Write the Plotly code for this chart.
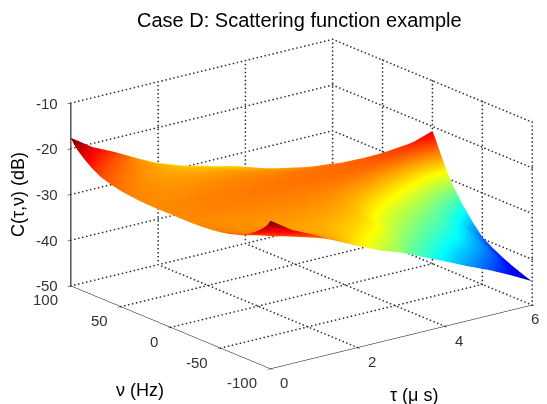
import plotly.graph_objects as go

TAU = [0, 0.25, 0.5, 1, 1.5, 2, 2.5, 3, 3.5, 4, 4.5, 5, 5.5, 6]
NU_HALF = [0, 3, 6, 10, 15, 20, 30, 40, 50, 60, 70, 80, 87, 93, 97, 100]
# z[tau][|nu|], dB
Z_HALF = [
    [-25.3, -25.3, -25.3, -25.3, -25.3, -25.3, -25.2, -25.0, -24.7, -24.2, -23.5, -22.2, -21.0, -19.8, -18.8, -17.6],
    [-25.2, -25.2, -25.2, -25.2, -25.2, -25.3, -25.3, -25.2, -25.0, -24.7, -24.1, -23.2, -22.0, -21.0, -20.2, -19.2],
    [-25.1, -25.1, -25.1, -25.1, -25.2, -25.3, -25.4, -25.4, -25.3, -25.1, -24.7, -24.0, -23.3, -22.5, -21.7, -20.8],
    [-25.0, -25.0, -25.0, -25.0, -25.1, -25.2, -25.4, -25.5, -25.6, -25.6, -25.5, -25.1, -24.7, -24.2, -23.6, -23.0],
    [-24.9, -24.9, -24.9, -25.0, -25.0, -25.1, -25.3, -25.5, -25.7, -25.9, -26.0, -25.9, -25.8, -25.7, -25.6, -25.5],
    [-24.8, -24.8, -24.8, -24.9, -25.0, -25.0, -25.2, -25.5, -25.8, -26.1, -26.4, -26.7, -27.0, -27.3, -27.6, -27.8],
    [-24.7, -24.7, -24.7, -24.8, -24.9, -25.0, -25.2, -25.6, -26.0, -26.5, -27.0, -27.7, -28.4, -29.0, -29.5, -29.9],
    [-24.6, -24.6, -24.6, -24.7, -24.8, -25.0, -25.4, -25.9, -26.5, -27.2, -28.0, -29.0, -30.0, -30.7, -31.2, -31.6],
    [-24.5, -24.5, -24.5, -24.6, -24.8, -25.1, -25.9, -26.9, -28.0, -29.3, -30.3, -31.5, -32.4, -33.0, -33.4, -33.7],
    [-24.3, -24.3, -24.3, -24.5, -24.9, -25.5, -26.9, -28.4, -29.9, -31.0, -32.2, -33.4, -34.3, -35.0, -35.5, -35.8],
    [-24.0, -24.0, -24.1, -24.6, -25.6, -26.5, -28.3, -30.0, -31.5, -32.7, -33.9, -35.3, -36.3, -37.1, -37.6, -38.0],
    [-23.4, -23.5, -24.0, -25.2, -26.6, -27.8, -29.9, -31.7, -33.0, -34.3, -35.6, -37.0, -38.2, -39.1, -39.6, -40.0],
    [-22.6, -23.0, -24.2, -25.9, -27.9, -29.4, -32.0, -33.9, -35.7, -37.0, -38.2, -39.5, -40.6, -41.3, -41.9, -42.3],
    [-21.0, -22.3, -24.0, -26.1, -28.7, -30.8, -34.2, -37.1, -39.6, -41.0, -42.2, -43.2, -43.8, -44.3, -44.6, -44.8],
]
NU = [-v for v in NU_HALF[:0:-1]] + NU_HALF
Z = [row[:0:-1] + row for row in Z_HALF]

TAU_TICKS = [0, 2, 4, 6]
NU_TICKS = [-100, -50, 0, 50, 100]
Z_TICKS = [-50, -40, -30, -20, -10]
JET = [[0, "#00008f"], [0.125, "#0000ff"], [0.375, "#00ffff"], [0.625, "#ffff00"],
       [0.875, "#ff0000"], [1, "#800000"]]

zmin, zmax = -50, -10


def dots(a, b, count):
    return [tuple(a[k] + (b[k] - a[k]) * i / count for k in range(3)) for i in range(count + 1)]


pts = []
for t in TAU_TICKS[1:]:
    pts += dots((t, 100, zmin), (t, 100, zmax), 46)
    pts += dots((t, -100, zmin), (t, 100, zmin), 55)
for n in NU_TICKS[:-1]:
    pts += dots((6, n, zmin), (6, n, zmax), 46)
for n in NU_TICKS[1:]:
    pts += dots((0, n, zmin), (6, n, zmin), 66)
for z in Z_TICKS[1:]:
    pts += dots((0, 100, z), (6, 100, z), 66)
    pts += dots((6, -100, z), (6, 100, z), 55)

fig = go.Figure()
fig.add_trace(go.Scatter3d(x=[p[0] for p in pts], y=[p[1] for p in pts], z=[p[2] for p in pts],
                           mode="markers", hoverinfo="skip", showlegend=False,
                           marker=dict(color="#333333", size=1.0, line=dict(width=0))))
fig.add_trace(go.Surface(x=TAU, y=NU, z=[list(r) for r in zip(*Z)], colorscale=JET, cmin=-46, cmax=-17.9,
                         showscale=False,
                         lighting=dict(ambient=1, diffuse=0, specular=0, fresnel=0, roughness=1)))

axis = dict(showbackground=False, showgrid=False, zeroline=False, showline=True, linecolor="black",
            linewidth=1, ticks="inside", ticklen=4, tickcolor="black", showspikes=False, title="",
            showticklabels=False)

R = (0.794, -0.607, 0)
U = (0.193, 0.2525, 0.948)
DIR = (-0.5766, -0.7530, 0.318)
C = tuple(-0.0992 * R[k] - 0.0295 * U[k] for k in range(3))
EYE = tuple(C[k] + 2.5 * DIR[k] for k in range(3))

tick_font = dict(family="Liberation Sans", size=15, color="#333333")
scene_ann = []
for z in Z_TICKS:
    scene_ann.append(dict(x=0, y=100, z=z, text=str(z), showarrow=False, xanchor="right", yanchor="middle",
                          xshift=-11, font=tick_font))
for n in NU_TICKS:
    scene_ann.append(dict(x=0, y=n, z=zmin, text=str(n), showarrow=False, xanchor="right", yanchor="middle",
                          xshift=-11, yshift=-14, font=tick_font))
for t in TAU_TICKS[:-1]:
    scene_ann.append(dict(x=t, y=-100, z=zmin, text=str(t), showarrow=False, xanchor="center", yanchor="middle",
                          xshift=14, yshift=-14, font=tick_font))

fig.update_layout(
    width=547, height=404, margin=dict(l=0, r=0, t=0, b=0), paper_bgcolor="white", showlegend=False,
    scene=dict(
        domain=dict(x=[0, 1], y=[0, 1]),
        aspectmode="manual", aspectratio=dict(x=1.632, y=1.625, z=0.955),
        camera=dict(projection=dict(type="orthographic"),
                    eye=dict(x=EYE[0], y=EYE[1], z=EYE[2]),
                    up=dict(x=0, y=0, z=1), center=dict(x=C[0], y=C[1], z=C[2])),
        xaxis=dict(axis, range=[0, 6], tickvals=TAU_TICKS),
        yaxis=dict(axis, range=[-100, 100], tickvals=NU_TICKS),
        zaxis=dict(axis, range=[-50, -10], tickvals=Z_TICKS, ticks="outside", linewidth=2),
        annotations=scene_ann,
    ),
)


def label(text, px, py, size, angle=0, color="black"):
    # The page body adds an 8 px margin around the figure.
    fig.add_annotation(text=text, xref="paper", yref="paper", x=(px - 8) / 547, y=1 - (py - 8) / 404, xanchor="center",
                       yanchor="middle", showarrow=False, textangle=angle,
                       font=dict(family="Liberation Sans", size=size, color=color))


label("Case D: Scattering function example", 299.5, 20, 20)
label("\u03bd (Hz)", 140, 390, 18)
label("\u03c4 (\u03bc s)", 414, 395, 18)
label("C(\u03c4,\u03bd) (dB)", 18, 195, 18, -90)
label(str(TAU_TICKS[-1]), 535, 318, 15, color="#333333")
fig.write_html("out.html")
